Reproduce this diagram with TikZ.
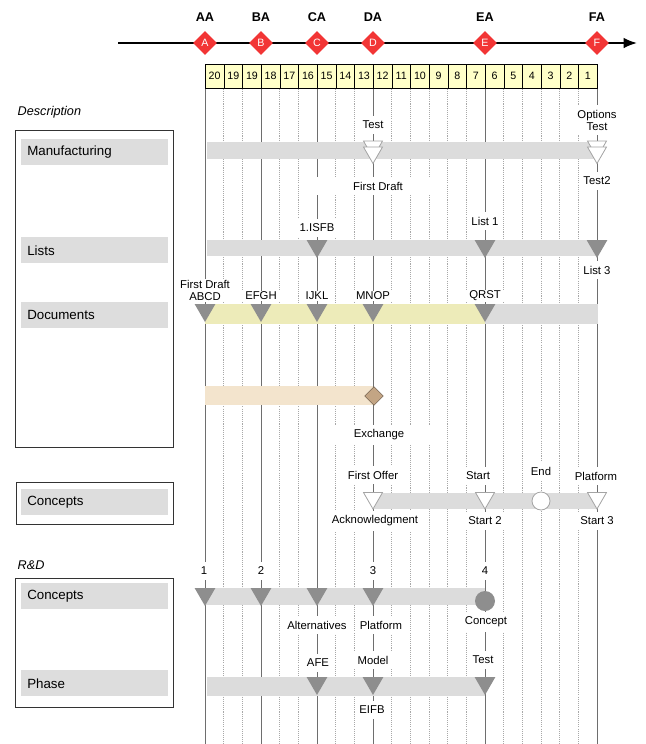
\documentclass[tikz,border=0pt]{standalone}
\usepackage{fontspec}
\setmainfont{Liberation Sans}
\usetikzlibrary{arrows.meta,shapes.geometric}

\definecolor{bandgray}{HTML}{DCDCDC}
\definecolor{boxgray}{HTML}{DDDDDD}
\definecolor{markgray}{HTML}{8E8E8E}
\definecolor{opengray}{HTML}{A4A4A4}
\definecolor{linegray}{HTML}{6E6E6E}
\definecolor{dotgray}{HTML}{A8A8A8}
\definecolor{cellyellow}{HTML}{FFFFC8}
\definecolor{docyellow}{HTML}{EDEBB9}
\definecolor{exchbeige}{HTML}{F3E4CD}
\definecolor{exchbrown}{HTML}{C3A584}
\definecolor{msred}{HTML}{F23535}

\tikzset{
  lbl/.style={font=\fontsize{8.5}{9}\selectfont, fill=white, inner xsep=3pt, inner ysep=3.5pt, align=center},
  widelbl/.style={lbl, minimum width=91pt},
  cell/.style={draw, fill=cellyellow, anchor=north west, minimum width=14pt, minimum height=18pt, inner sep=0pt, font=\fontsize{8}{9}\selectfont},
  gridsolid/.style={draw=linegray, line width=0.75pt},
  griddot/.style={draw=dotgray, line width=0.7pt, dash pattern=on 0.8pt off 0.8pt},
  ms/.style={diamond, fill=msred, minimum size=18pt, inner sep=0pt, text=white, font=\fontsize{8}{9}\selectfont},
  mslbl/.style={font=\bfseries\fontsize{9.5}{10}\selectfont},
  filltri/.style={regular polygon, regular polygon sides=3, shape border rotate=180, fill=markgray, minimum size=18pt, inner sep=0pt},
  opentri/.style={filltri, fill=white, draw=opengray, line width=0.6pt, minimum size=16.5pt},
  rowbox/.style={anchor=north west, fill=boxgray, minimum height=19.5pt, text width=101pt, inner xsep=4.5pt, align=left, font=\fontsize{10}{11}\selectfont},
  frame/.style={draw=black!80, line width=0.75pt},
  part/.style={anchor=west, font=\itshape\fontsize{9.5}{10}\selectfont}
}

\begin{document}
\begin{tikzpicture}[x=0.75pt,y=-0.75pt]
\useasboundingbox (0,0) rectangle (646,744);

% time axis and milestones
\coordinate (t0) at (118,43);
\coordinate (t1) at (637,43);
\draw[line width=1.5pt,-{Latex[length=10pt,width=8pt]}] (t0) -- (t1);
\node[ms] (A) at (205,43) {A};
\node[ms] (B) at (261,43) {B};
\node[ms] (C) at (317,43) {C};
\node[ms] (D) at (373,43) {D};
\node[ms] (E) at (485,43) {E};
\node[ms] (F) at (597,43) {F};
\node[mslbl] (AA) at (205,17) {AA};
\node[mslbl] (BA) at (261,17) {BA};
\node[mslbl] (CA) at (317,17) {CA};
\node[mslbl] (DA) at (373,17) {DA};
\node[mslbl] (EA) at (485,17) {EA};
\node[mslbl] (FA) at (597,17) {FA};

% count-down cells
\foreach \n [count=\i from 0] in {20,19,19,18,17,16,15,14,13,12,11,10,9,8,7,6,5,4,3,2,1}
  \node[cell] (c\i) at ({205+\i*18.6667},64) {\n};

% grid lines
\foreach \i in {1,2,4,5,7,8,10,11,12,13,14,16,17,18,19}
  \draw[griddot] (c\i.south west) -- ++(0,660);
\draw[griddot] (c20.south west) -- ++(0,660);
\foreach \i in {0,3,6,9,15}
  \draw[gridsolid] (c\i.south west) -- ++(0,660);
\draw[gridsolid] (c20.south east) -- ++(0,660);

% left side
\node[part] (desc) at (13,112) {Description};
\coordinate (f1a) at (15,130);
\coordinate (f1b) at (173,447);
\draw[frame] (f1a) rectangle (f1b);
\node[rowbox] (manu) at (21,139) {Manufacturing};
\node[rowbox] (lists) at (21,237) {Lists};
\node[rowbox] (docs) at (21,302) {Documents};
\coordinate (f2a) at (16,482);
\coordinate (f2b) at (173,524);
\draw[frame] (f2a) rectangle (f2b);
\node[rowbox] (conc) at (21,489) {Concepts};
\node[part] (rd) at (13,565) {R\&D};
\coordinate (f3a) at (15,578);
\coordinate (f3b) at (173,707);
\draw[frame] (f3a) rectangle (f3b);
\node[rowbox] (rdconc) at (21,583) {Concepts};
\node[rowbox] (phase) at (21,670) {Phase};

% labels
\node[lbl] (l1) at (373,125) {Test};
\node[widelbl] (l2) at (378,186) {First Draft};
\node[lbl] (l3) at (597,120) {Options\\Test};
\node[lbl] (l4) at (597,181) {Test2};
\node[lbl] (l5) at (317,228) {1.ISFB};
\node[lbl] (l6) at (485,221) {List 1};
\node[lbl] (l7) at (597,270) {List 3};
\node[lbl,inner ysep=1pt] (l8) at (205,290) {First Draft\\ABCD};
\node[lbl,inner ysep=1pt] (l9) at (261,296) {EFGH};
\node[lbl,inner ysep=1pt] (l10) at (317,296) {IJKL};
\node[lbl,inner ysep=1pt] (l11) at (373,296) {MNOP};
\node[lbl,inner ysep=1pt] (l12) at (485,296) {QRST};
\node[widelbl] (l13) at (379,435) {Exchange};
\node[lbl] (l14) at (373,475) {First Offer};
\node[lbl] (l15) at (375,521) {Acknowledgment};
\node[lbl] (l16) at (478,476) {Start};
\node[lbl] (l17) at (485,521) {Start 2};
\node[lbl] (l18) at (541,471) {End};
\node[lbl] (l19) at (596,476) {Platform};
\node[lbl] (l20) at (597,521) {Start 3};
\node[lbl] (l21) at (204,571) {1};
\node[lbl] (l22) at (261,571) {2};
\node[lbl] (l23) at (373,571) {3};
\node[lbl] (l24) at (485,571) {4};
\node[lbl] (l25) at (317,625) {Alternatives};
\node[lbl] (l26) at (381,625) {Platform};
\node[lbl] (l27) at (486,622) {Concept};
\node[lbl] (l28) at (318,663) {AFE};
\node[lbl] (l29) at (373,660) {Model};
\node[lbl] (l30) at (483,660) {Test};
\node[lbl] (l31) at (372,710) {EIFB};

% bands
\fill[bandgray] (207,142) rectangle (597,159);
\fill[bandgray] (207,240) rectangle (597,256);
\fill[docyellow] (205,304) rectangle (485,324);
\fill[bandgray] (485,304) rectangle (598,324);
\fill[exchbeige] (205,386) rectangle (373,405);
\fill[bandgray] (373,493) rectangle (597,509);
\fill[bandgray] (205,588) rectangle (485,605);
\fill[bandgray] (207,677) rectangle (485,696);

% markers
\node[opentri] (m1) at (373,146.5) {};
\node[opentri] (m2) at (373,152.5) {};
\node[opentri] (m3) at (597,146.5) {};
\node[opentri] (m4) at (597,152.5) {};
\node[filltri] (m5) at (317,246) {};
\node[filltri] (m6) at (485,246) {};
\node[filltri] (m7) at (597,246) {};
\node[filltri] (m8) at (205,310) {};
\node[filltri] (m9) at (261,310) {};
\node[filltri] (m10) at (317,310) {};
\node[filltri] (m11) at (373,310) {};
\node[filltri] (m12) at (485,310) {};
\node[diamond, fill=exchbrown, draw=exchbrown!60!black, minimum size=14pt, inner sep=0pt] (m13) at (374,396) {};
\node[opentri] (m14) at (373,498) {};
\node[opentri] (m15) at (485,498) {};
\node[circle, fill=white, draw=opengray, line width=0.6pt, minimum size=13.5pt, inner sep=0pt] (m16) at (541,501) {};
\node[opentri] (m17) at (597,498) {};
\node[filltri] (m18) at (205,594) {};
\node[filltri] (m19) at (261,594) {};
\node[filltri] (m20) at (317,594) {};
\node[filltri] (m21) at (373,594) {};
\node[circle, fill=markgray, minimum size=15pt, inner sep=0pt] (m22) at (485,601) {};
\node[filltri] (m23) at (317,683) {};
\node[filltri] (m24) at (373,683) {};
\node[filltri] (m25) at (485,683) {};
\end{tikzpicture}
\end{document}
